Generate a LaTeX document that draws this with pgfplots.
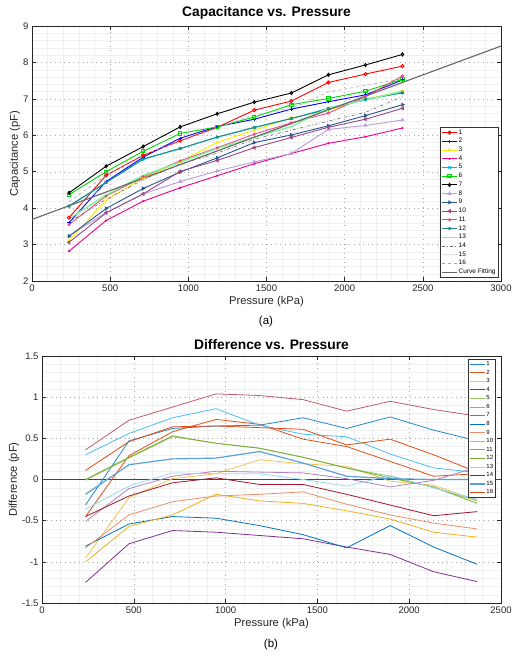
\documentclass[border=0pt]{standalone}
\usepackage{fontspec}
\setmainfont{Liberation Sans}
\usepackage{pgfplots}
\usepackage{pgfplotstable}
\pgfplotsset{compat=1.18}

\definecolor{c1}{rgb}{0,0.447,0.741}
\definecolor{c2}{rgb}{0.85,0.325,0.098}
\definecolor{c3}{rgb}{0.929,0.694,0.125}
\definecolor{c4}{rgb}{0.494,0.184,0.556}
\definecolor{c5}{rgb}{0.466,0.674,0.188}
\definecolor{c6}{rgb}{0.301,0.745,0.933}
\definecolor{c7}{rgb}{0.635,0.078,0.184}
\definecolor{lav}{rgb}{0.72,0.62,0.86}
\definecolor{dblue}{rgb}{0.16,0.33,0.55}
\definecolor{dpurp}{rgb}{0.6,0.28,0.52}
\definecolor{pinkc}{rgb}{0.92,0.3,0.5}
\definecolor{tealc}{rgb}{0.12,0.55,0.5}
\definecolor{lgreen}{rgb}{0.5,0.95,0.62}

\pgfplotstableread{
x s1 s2 s3 s4 s5 s6 s7 s8 s9 s10 s11 s12 s13 s14 s15 s16
237 3.74 3.60 3.11 2.82 4.05 4.37 4.42 3.24 3.23 3.06 3.55 4.06 3.71 3.62 3.89 4.18
474 4.90 4.73 4.22 3.66 4.70 5.00 5.15 3.88 3.99 3.87 4.33 4.71 4.36 4.24 4.62 4.90
711 5.45 5.40 4.83 4.19 5.34 5.56 5.69 4.39 4.54 4.39 4.86 5.35 4.90 4.78 5.07 5.46
948 5.85 5.92 5.27 4.56 5.63 6.05 6.23 4.73 4.99 5.01 5.30 5.64 5.26 5.21 5.45 5.84
1185 6.22 6.24 5.81 4.89 5.95 6.23 6.59 5.02 5.38 5.31 5.66 5.95 5.64 5.51 5.91 6.20
1422 6.69 6.44 6.14 5.22 6.22 6.50 6.91 5.27 5.80 5.66 6.03 6.21 5.95 5.89 6.15 6.56
1659 6.94 6.72 6.48 5.50 6.46 6.84 7.16 5.50 6.01 5.94 6.34 6.46 6.24 6.14 6.36 6.73
1896 7.45 6.92 6.69 5.78 6.74 7.01 7.66 6.16 6.26 6.22 6.61 6.72 6.75 6.39 6.71 7.19
2133 7.68 7.11 7.00 5.96 6.97 7.21 7.93 6.27 6.54 6.44 7.06 6.99 6.97 6.63 7.07 7.37
2370 7.90 7.52 7.20 6.20 7.19 7.54 8.22 6.42 6.84 6.74 7.63 7.16 7.21 7.06 7.45 7.55
}\captab

\pgfplotstableread{
x d1 d2 d3 d4 d5 d6 d7 d8 d9 d10 d11 d12 d13 d14 d15 d16
237 -0.31 -0.45 -0.955 -1.25 -0.01 0.30 0.36 -0.81 -0.83 -1.00 -0.51 0.00 -0.36 -0.45 -0.18 0.11
474 0.47 0.29 -0.22 -0.78 0.26 0.56 0.72 -0.54 -0.43 -0.57 -0.11 0.27 -0.08 -0.20 0.18 0.46
711 0.62 0.58 0.01 -0.62 0.52 0.75 0.88 -0.45 -0.27 -0.43 0.04 0.53 0.08 -0.04 0.25 0.64
948 0.65 0.73 0.07 -0.64 0.44 0.86 1.04 -0.47 -0.20 -0.18 0.10 0.44 0.07 0.02 0.26 0.65
1185 0.66 0.67 0.24 -0.68 0.38 0.66 1.02 -0.56 -0.18 -0.26 0.09 0.38 0.07 -0.06 0.34 0.63
1422 0.75 0.49 0.19 -0.72 0.27 0.55 0.97 -0.67 -0.15 -0.29 0.08 0.27 0.00 -0.06 0.20 0.61
1659 0.62 0.40 0.16 -0.82 0.14 0.52 0.83 -0.83 -0.30 -0.38 0.01 0.14 -0.08 -0.18 0.04 0.42
1896 0.76 0.22 -0.02 -0.91 0.04 0.31 0.95 -0.56 -0.43 -0.48 -0.09 0.02 0.05 -0.31 0.01 0.49
2133 0.60 0.04 -0.07 -1.12 -0.10 0.14 0.85 -0.82 -0.53 -0.64 -0.01 -0.09 -0.10 -0.44 0.00 0.30
2370 0.47 0.07 -0.25 -1.24 -0.26 0.085 0.77 -1.03 -0.60 -0.70 0.15 -0.29 -0.24 -0.39 0.00 0.09
}\difftab

\pgfplotsset{
  mystyle/.style={
    scale only axis,
    grid=both,
    major grid style={gray!70, line width=0.4pt, dash pattern=on 0.6pt off 4pt},
    minor grid style={gray!12, line width=0.3pt},
    tick align=inside,
    major tick length=4pt,
    minor tick length=0pt,
    xtick pos=both, ytick pos=both,
    axis line style={black!85, line width=0.6pt},
    every tick/.style={black!85, line width=0.5pt},
    tick label style={font=\fontsize{9.5}{11}\selectfont, black!85},
    /pgf/number format/assume math mode=true,
    /pgf/number format/1000 sep={},
    scaled ticks=false,
    label style={font=\fontsize{11.2}{13}\selectfont, black!85},
    title style={font=\bfseries\fontsize{13.8}{15}\selectfont, yshift=-3pt},
    legend cell align=left,
    legend image code/.code={\draw[mark repeat=2,mark phase=2] plot coordinates {(0pt,0pt)(7.5pt,0pt)(15pt,0pt)};},
  },
  tl/.style={line width=0.9pt, mark size=1.6pt},
  bl/.style={line width=0.8pt, no marks},
}

\begin{document}
\begin{tikzpicture}[x=1pt,y=1pt]
\useasboundingbox (0,0) rectangle (513,-656);

\begin{axis}[mystyle,
  at={(32pt,-26pt)}, anchor=north west,
  width=469pt, height=255pt,
  xmin=0, xmax=3000, ymin=2, ymax=9,
  xtick={0,500,...,3000}, ytick={2,3,...,9},
  minor x tick num=4, minor y tick num=4,
  title={Capacitance vs. Pressure},
  xlabel={Pressure (kPa)}, ylabel={Capacitance (pF)},
  ylabel style={yshift=-4pt},
  xlabel style={yshift=2pt},
  legend style={at={(0.994,0.012)}, anchor=south east, font=\fontsize{6.5}{7}\selectfont,
    draw=black!80, line width=0.6pt, inner sep=1.5pt, row sep=0.9pt,
    nodes={inner sep=0.9pt}},
]
\addplot[tl, red, mark=o] table[x=x,y=s1]{\captab};
\addlegendentry{1}
\addplot[tl, blue, mark=+] table[x=x,y=s2]{\captab};
\addlegendentry{2}
\addplot[tl, yellow!95!orange, mark=asterisk] table[x=x,y=s3]{\captab};
\addlegendentry{3}
\addplot[tl, magenta, mark=*, mark size=0.6pt] table[x=x,y=s4]{\captab};
\addlegendentry{4}
\addplot[tl, cyan, mark=x] table[x=x,y=s5]{\captab};
\addlegendentry{5}
\addplot[tl, green!85!black, mark=square] table[x=x,y=s6]{\captab};
\addlegendentry{6}
\addplot[tl, black, mark=diamond] table[x=x,y=s7]{\captab};
\addlegendentry{7}
\addplot[tl, lav, mark=triangle] table[x=x,y=s8]{\captab};
\addlegendentry{8}
\addplot[tl, dblue, mark=triangle, mark options={rotate=-90}] table[x=x,y=s9]{\captab};
\addlegendentry{9}
\addplot[tl, dpurp, mark=triangle, mark options={rotate=90}] table[x=x,y=s10]{\captab};
\addlegendentry{10}
\addplot[tl, pinkc, mark=star] table[x=x,y=s11]{\captab};
\addlegendentry{11}
\addplot[tl, tealc, mark=asterisk] table[x=x,y=s12]{\captab};
\addlegendentry{12}
\addplot[line width=1.4pt, lgreen, no marks] table[x=x,y=s13]{\captab};
\addlegendentry{13}
\addplot[line width=0.6pt, gray!80!black, dash dot, no marks] table[x=x,y=s14]{\captab};
\addlegendentry{14}
\addplot[line width=0.6pt, gray!35, densely dotted, no marks] table[x=x,y=s15]{\captab};
\addlegendentry{15}
\addplot[line width=0.6pt, gray!70, dashed, no marks] table[x=x,y=s16]{\captab};
\addlegendentry{16}
\addplot[line width=1.1pt, gray!80!black, no marks] coordinates {(0,3.69) (3000,8.45)};
\addlegendentry{Curve Fitting}
\end{axis}

\node[font=\fontsize{11.5}{13}\selectfont] at (266,-322) {(a)};

\begin{axis}[mystyle,
  at={(42pt,-356pt)}, anchor=north west,
  width=459pt, height=247pt,
  xmin=0, xmax=2500, ymin=-1.5, ymax=1.5,
  xtick={0,500,...,2500}, ytick={-1.5,-1,-0.5,0,0.5,1,1.5},
  minor x tick num=4, minor y tick num=4,
  title={Difference vs. Pressure},
  xlabel={Pressure (kPa)}, ylabel={Difference (pF)},
  ylabel style={yshift=-4pt},
  xlabel style={yshift=2pt},
  legend style={at={(0.988,0.988)}, anchor=north east, font=\fontsize{6}{6.5}\selectfont,
    draw=black!80, line width=0.6pt, inner sep=1.2pt, row sep=1.1pt,
    nodes={inner sep=0.9pt}},
]
\addplot[line width=1.8pt, gray!55!black, forget plot] coordinates {(0,0) (2500,0)};
\addplot[bl, c1!85!white] table[x=x,y=d1]{\difftab};
\addlegendentry{1}
\addplot[bl, c2] table[x=x,y=d2]{\difftab};
\addlegendentry{2}
\addplot[bl, c3!75!white] table[x=x,y=d3]{\difftab};
\addlegendentry{3}
\addplot[bl, c4] table[x=x,y=d4]{\difftab};
\addlegendentry{4}
\addplot[bl, c5!70!white] table[x=x,y=d5]{\difftab};
\addlegendentry{5}
\addplot[bl, c6] table[x=x,y=d6]{\difftab};
\addlegendentry{6}
\addplot[bl, c7!70!white] table[x=x,y=d7]{\difftab};
\addlegendentry{7}
\addplot[bl, c1] table[x=x,y=d8]{\difftab};
\addlegendentry{8}
\addplot[bl, c2!65!white] table[x=x,y=d9]{\difftab};
\addlegendentry{9}
\addplot[bl, c3] table[x=x,y=d10]{\difftab};
\addlegendentry{10}
\addplot[bl, c4!60!white] table[x=x,y=d11]{\difftab};
\addlegendentry{11}
\addplot[bl, c5] table[x=x,y=d12]{\difftab};
\addlegendentry{12}
\addplot[bl, c6!60!white] table[x=x,y=d13]{\difftab};
\addlegendentry{13}
\addplot[bl, c7] table[x=x,y=d14]{\difftab};
\addlegendentry{14}
\addplot[bl, line width=1.2pt, c1!65!white] table[x=x,y=d15]{\difftab};
\addlegendentry{15}
\addplot[bl, c2!90!red] table[x=x,y=d16]{\difftab};
\addlegendentry{16}
\end{axis}

\node[font=\fontsize{11.5}{13}\selectfont] at (271,-645) {(b)};
\end{tikzpicture}
\end{document}
